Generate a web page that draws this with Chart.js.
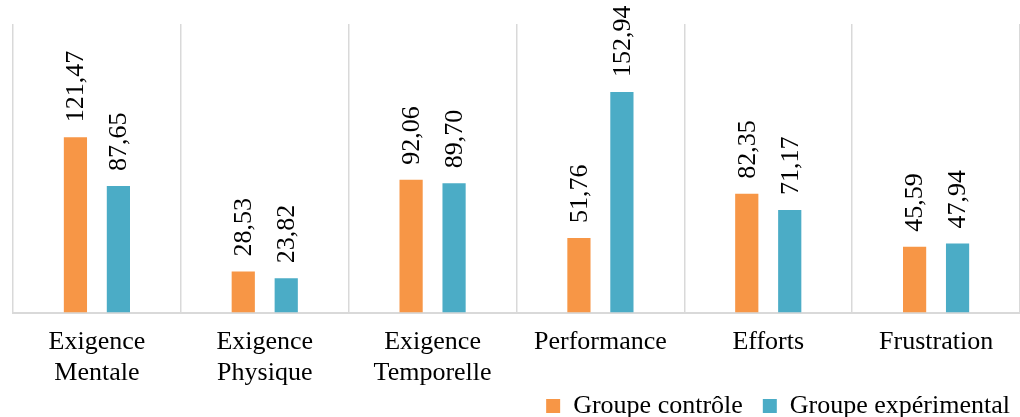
<!DOCTYPE html>
<html>
<head>
<meta charset="utf-8">
<script src="https://cdn.jsdelivr.net/npm/chart.js@4"></script>
<style>
  html, body { margin: 0; padding: 0; background: #fff; }
  #wrap { width: 1020px; height: 417px; }
</style>
</head>
<body>
<div id="wrap"><canvas id="chart-tlx"></canvas></div>
<script>
// Scores NASA-TLX par dimension
const categories = [
    ['Exigence', 'Mentale'],
    ['Exigence', 'Physique'],
    ['Exigence', 'Temporelle'],
    'Performance',
    'Efforts',
    'Frustration'
];
const groupeControle = [121.47, 28.53, 92.06, 51.76, 82.35, 45.59];
const groupeExperimental = [87.65, 23.82, 89.70, 152.94, 71.17, 47.94];

const FONT = 'Liberation Serif, Times New Roman, serif';

// valeurs écrites à la verticale au-dessus des barres
const verticalValuePlugin = {
    id: 'verticalValues',
    afterDatasetsDraw(chart) {
        const ctx = chart.ctx;
        ctx.save();
        ctx.font = '26px ' + FONT;
        ctx.fillStyle = '#000';
        ctx.textAlign = 'left';
        ctx.textBaseline = 'middle';
        chart.data.datasets.forEach(function (ds, i) {
            const meta = chart.getDatasetMeta(i);
            meta.data.forEach(function (bar, j) {
                const txt = ds.data[j].toFixed(2).replace('.', ',');
                ctx.save();
                ctx.translate(bar.x + 1, bar.y - 15);
                ctx.rotate(-Math.PI / 2);
                ctx.fillText(txt, 0, 0);
                ctx.restore();
            });
        });
        ctx.restore();
    }
};

// la légende remonte à côté de la deuxième ligne des étiquettes
const legendShiftPlugin = {
    id: 'legendShift',
    afterLayout(chart) {
        const shift = 30;
        chart.legend.top -= shift;
        chart.legend.height += shift;
        chart.legend.right += 10;
        chart.legend.width += 10;
    }
};

const data = {
    labels: categories,
    datasets: [
        {
            label: 'Groupe contrôle',
            data: groupeControle,
            backgroundColor: '#F79646',
            categoryPercentage: 0.512,
            barPercentage: 0.54
        },
        {
            label: 'Groupe expérimental',
            data: groupeExperimental,
            backgroundColor: '#4BACC6',
            categoryPercentage: 0.512,
            barPercentage: 0.54
        }
    ]
};

const options = {
    responsive: true,
    maintainAspectRatio: false,
    animation: false,
    layout: {
        padding: { top: 24, left: 13, right: 0, bottom: 0 }
    },
    scales: {
        x: {
            offset: true,
            grid: {
                display: true,
                offset: true,
                color: '#d9d9d9',
                lineWidth: 1.5,
                drawTicks: false
            },
            border: { display: true, color: '#d9d9d9', width: 2 },
            ticks: {
                color: '#000',
                padding: 14,
                maxRotation: 0,
                autoSkip: false,
                font: { family: FONT, size: 26, lineHeight: 1.2 }
            }
        },
        y: {
            display: false,
            min: 0,
            max: 200
        }
    },
    plugins: {
        legend: {
            position: 'bottom',
            align: 'end',
            maxHeight: 14,
            labels: {
                color: '#000',
                boxWidth: 14,
                boxHeight: 14,
                padding: 20,
                font: { family: FONT, size: 26 }
            }
        },
        tooltip: { enabled: false }
    }
};

const ctx = document.getElementById('chart-tlx').getContext('2d');
const chart = new Chart(ctx, {
    type: 'bar',
    data: data,
    options: options,
    plugins: [verticalValuePlugin, legendShiftPlugin]
});
</script>
</body>
</html>
